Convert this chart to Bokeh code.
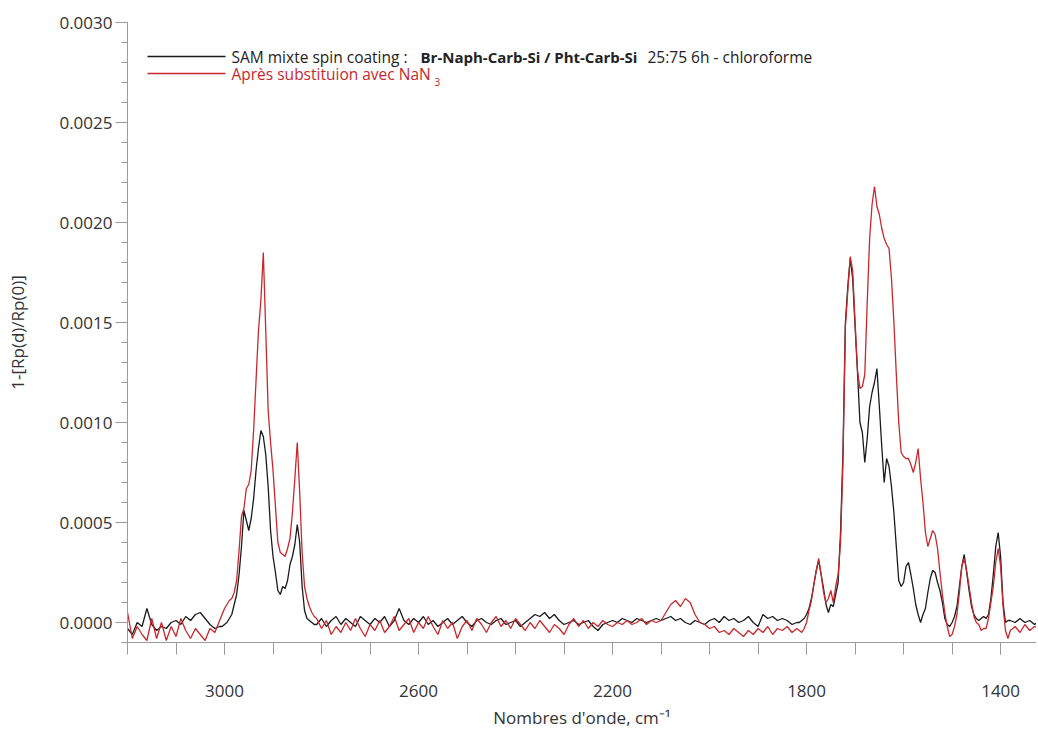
from bokeh.plotting import figure
from bokeh.models import Range1d, FixedTicker, NumeralTickFormatter, Label, Arrow
from bokeh.embed import file_html
from bokeh.resources import INLINE

# ---------------- data (values in units of 1e-5) ----------------
wn_left = [3200, 3190, 3180, 3170, 3160, 3150, 3140, 3130, 3120, 3110,
           3100, 3090, 3080, 3070, 3060, 3050, 3040, 3030, 3020, 3010]
sam_left = [-3, -6, 0, -2, 7, -1, -4, -2, -3, 0, 1, -1, 3, 1, 4, 5, 2, -1, -3, -2]
nan3_left = [5, -8, -2, -6, -9, 2, -8, 0, -9, -2, -7, 2, -4, -8, -3, -6, -9, -3, -5, 1]

wn_ch = [3005, 3000, 2995, 2990, 2985, 2980, 2975, 2970, 2965, 2960,
         2955, 2950, 2945, 2940, 2935, 2930, 2925, 2920, 2915, 2910,
         2905, 2900, 2895, 2890, 2885, 2880, 2875, 2870, 2865, 2860,
         2855, 2850, 2845, 2840, 2835, 2830, 2825, 2820, 2815]
sam_ch = [-2, -1, 0, 2, 4, 9, 14, 24, 38, 56,
          51, 46, 52, 62, 76, 87, 96, 93, 84, 68,
          46, 33, 25, 16, 14, 18, 17, 21, 29, 33,
          39, 49, 40, 18, 6, 2, 1, 0, -1]
nan3_ch = [4, 7, 9, 11, 12, 15, 21, 36, 53, 57,
           67, 69, 76, 96, 121, 146, 161, 185, 146, 106,
           90, 76, 58, 40, 35, 34, 33, 37, 42, 55,
           72, 90, 65, 35, 18, 12, 8, 5, 3]

wn_mid = [2810, 2800, 2790, 2780, 2770, 2760, 2750, 2740, 2730, 2720,
          2710, 2700, 2690, 2680, 2670, 2660, 2650, 2640, 2630, 2620,
          2610, 2600, 2590, 2580, 2570, 2560, 2550, 2540, 2530, 2520,
          2510, 2500, 2490, 2480, 2470, 2460, 2450, 2440, 2430, 2420,
          2410, 2400, 2390, 2380, 2370, 2360, 2350, 2340, 2330, 2320,
          2310, 2300, 2290, 2280, 2270, 2260, 2250, 2240, 2230, 2220,
          2210, 2200, 2190, 2180, 2170, 2160, 2150, 2140, 2130, 2120,
          2110, 2100, 2090, 2080, 2070, 2060, 2050, 2040, 2030, 2020,
          2010, 2000, 1990, 1980, 1970, 1960, 1950, 1940, 1930, 1920,
          1910, 1900, 1890, 1880, 1870, 1860, 1850, 1840, 1830, 1820]
sam_mid = [-1, 2, -2, 1, 3, -1, 2, 0, -2, 3,
           1, -1, 2, 0, 3, -2, 1, 7, 1, -1,
           2, 0, 3, -1, 1, -2, 0, 2, -1, 1,
           3, 0, -2, 1, 2, 0, -1, 1, 2, -1,
           0, 1, -2, 0, 2, 4, 3, 5, 2, 4,
           1, -1, 0, 1, -1, 0, 1, -2, -4, -1,
           0, 1, 0, 2, 1, 0, 2, 1, 0, 1,
           2, 1, 2, 3, 1, 2, 0, -1, 1, 0,
           -1, 1, 2, 0, 3, 1, 2, 0, 1, 3,
           0, -2, 4, 2, 3, 1, 2, 1, -1, 0]
nan3_mid = [2, -3, 1, -6, -2, -5, 0, -4, 2, -3,
            -7, -1, -4, 1, -5, -2, 3, -4, -1, 2,
            -5, 0, -3, 3, -2, -6, 1, -3, 0, -8,
            -2, 1, -4, 2, -1, -5, 0, 3, -2, 1,
            -3, 2, -1, -4, 0, -3, 1, -2, -5, -1,
            -3, -6, -1, 2, -2, 1, -3, 0, -2, 1,
            -1, -2, 0, -1, 1, -1, 0, 2, -1, 1,
            0, 1, 5, 9, 11, 8, 12, 10, 4, 0,
            -1, -3, -2, -5, -4, -6, -3, -5, -7, -4,
            -6, -3, -5, -2, -6, -3, -4, -2, -5, -3]

wn_fp = [1815, 1810, 1805, 1800, 1795, 1790, 1785, 1780, 1775, 1770,
         1765, 1760, 1755, 1750, 1745, 1740, 1735, 1730, 1725, 1720,
         1715, 1710, 1705, 1700, 1695, 1690, 1685, 1680, 1675, 1670,
         1665, 1660, 1655, 1650, 1645, 1640, 1635, 1630, 1625, 1620,
         1615, 1610, 1605, 1600, 1595, 1590, 1585, 1580, 1575, 1570,
         1565, 1560, 1555, 1550, 1545, 1540, 1535, 1530, 1525, 1520,
         1515, 1510, 1505, 1500, 1495, 1490, 1485, 1480, 1475, 1470,
         1465, 1460, 1455, 1450, 1445, 1440, 1435, 1430, 1425, 1420,
         1415, 1410, 1405, 1400, 1395, 1390, 1385]
sam_fp = [0, 1, 2, 4, 7, 12, 19, 26, 31, 24,
          17, 9, 5, 9, 8, 14, 20, 45, 85, 150,
          168, 182, 172, 148, 125, 100, 95, 80, 92, 108,
          115, 120, 127, 108, 88, 70, 82, 78, 68, 55,
          38, 21, 18, 20, 28, 30, 24, 17, 9, 4,
          0, 4, 7, 15, 22, 26, 25, 20, 16, 10,
          2, -1, -2, 0, 3, 8, 18, 28, 34, 25,
          16, 8, 4, 2, 1, 2, 3, 2, 4, 12,
          24, 38, 45, 33, 10, 0, 1]
nan3_fp = [-4, -5, -3, 0, 6, 11, 19, 26, 32, 24,
           15, 10, 12, 16, 10, 18, 24, 40, 80, 148,
           166, 183, 176, 150, 126, 117, 118, 124, 160, 192,
           209, 218, 208, 204, 197, 192, 189, 187, 172, 150,
           124, 100, 85, 83, 82, 82, 79, 75, 80, 87,
           72, 60, 45, 38, 42, 46, 44, 37, 25, 14,
           5, -2, -7, -6, -2, 4, 15, 28, 32, 26,
           18, 10, 3, 0, -1, -4, -3, -3, 2, 10,
           18, 30, 37, 28, 8, -4, -8]

wn_right = [1380, 1370, 1360, 1350, 1340, 1330, 1320]
sam_right = [1, 0, 2, 0, 1, -1, 1]
nan3_right = [-4, -2, -5, -1, -4, -2, -3]

x_tick_labels = [3000, 2600, 2200, 1800, 1400]
y_tick_labels = [0.0, 0.0005, 0.0010, 0.0015, 0.0020, 0.0025, 0.0030]

wavenumber = wn_left + wn_ch + wn_mid + wn_fp + wn_right
sam_mixte = [v * 1e-5 for v in sam_left + sam_ch + sam_mid + sam_fp + sam_right]
apres_nan3 = [v * 1e-5 for v in nan3_left + nan3_ch + nan3_mid + nan3_fp + nan3_right]

# ---------------- figure ----------------
FONT = "Open Sans"
TXT = "#333333"
AX = "#9a9a9a"
BLACK = "#1a1a1a"
RED = "#c8282d"

p = figure(width=1036, height=736, output_backend="svg", toolbar_location=None,
           x_range=Range1d(3200, 1326), y_range=Range1d(-0.0001, 0.0030),
           min_border_left=127, min_border_right=0, min_border_top=22, min_border_bottom=94)
p.outline_line_color = None
p.xgrid.visible = False
p.ygrid.visible = False
p.background_fill_color = "white"

p.line(wavenumber, sam_mixte, line_color=BLACK, line_width=1.3)
p.line(wavenumber, apres_nan3, line_color=RED, line_width=1.3)

# x axis
xa = p.xaxis[0]
xa.ticker = FixedTicker(ticks=x_tick_labels, minor_ticks=list(range(3200, 1325, -100)))
xa.axis_line_color = AX
xa.major_tick_line_color = AX
xa.minor_tick_line_color = AX
xa.major_tick_out = 12
xa.major_tick_in = 0
xa.minor_tick_out = 12
xa.minor_tick_in = 0
xa.major_label_standoff = 30
xa.major_label_text_font = FONT
xa.major_label_text_font_size = "17px"
xa.major_label_text_color = TXT
xa.axis_label = "Nombres d'onde, cm\u207b\u00b9"
xa.axis_label_text_font = FONT
xa.axis_label_text_font_size = "17px"
xa.axis_label_text_font_style = "normal"
xa.axis_label_text_color = TXT
xa.axis_label_standoff = 6

# y axis
ya = p.yaxis[0]
ya.ticker = FixedTicker(ticks=y_tick_labels,
                        minor_ticks=[i * 0.0001 for i in range(-1, 31)])
ya.formatter = NumeralTickFormatter(format="0.0000")
ya.axis_line_color = AX
ya.major_tick_line_color = AX
ya.minor_tick_line_color = AX
ya.major_tick_out = 12
ya.major_tick_in = 0
ya.minor_tick_out = 6
ya.minor_tick_in = 0
ya.major_label_standoff = 3
ya.major_label_text_font = FONT
ya.major_label_text_font_size = "17px"
ya.major_label_text_color = TXT
ya.axis_label = "1-[Rp(d)/Rp(0)]"
ya.axis_label_text_font = FONT
ya.axis_label_text_font_size = "17px"
ya.axis_label_text_font_style = "normal"
ya.axis_label_text_color = TXT
ya.axis_label_standoff = 27

# ---------------- legend (manual, for mixed bold text) ----------------
ROW1, ROW2 = 586, 569
p.add_layout(Arrow(x_start=20, y_start=ROW1, x_end=98, y_end=ROW1,
                   start_units="screen", end_units="screen", end=None,
                   line_color=BLACK, line_width=1.3))
p.add_layout(Arrow(x_start=20, y_start=ROW2, x_end=98, y_end=ROW2,
                   start_units="screen", end_units="screen", end=None,
                   line_color=RED, line_width=1.3))
common = dict(x_units="screen", y_units="screen", text_font=FONT, text_baseline="middle")
p.add_layout(Label(x=104, y=ROW1, text="SAM mixte spin coating :", text_color="#222222",
                   text_font_size="15.5px", **common))
p.add_layout(Label(x=293, y=ROW1, text="Br-Naph-Carb-Si / Pht-Carb-Si", text_color="#222222",
                   text_font_style="bold", text_font_size="15px", **common))
p.add_layout(Label(x=520, y=ROW1, text="25:75 6h - chloroforme", text_color="#222222",
                   text_font_size="15.5px", **common))
p.add_layout(Label(x=104, y=ROW2, text="Après substituion avec NaN", text_color=RED,
                   text_font_size="15.5px", **common))
p.add_layout(Label(x=307, y=ROW2 - 8, text="3", text_color=RED,
                   text_font_size="10px", **common))

open("out.html", "w").write(file_html(p, INLINE))
